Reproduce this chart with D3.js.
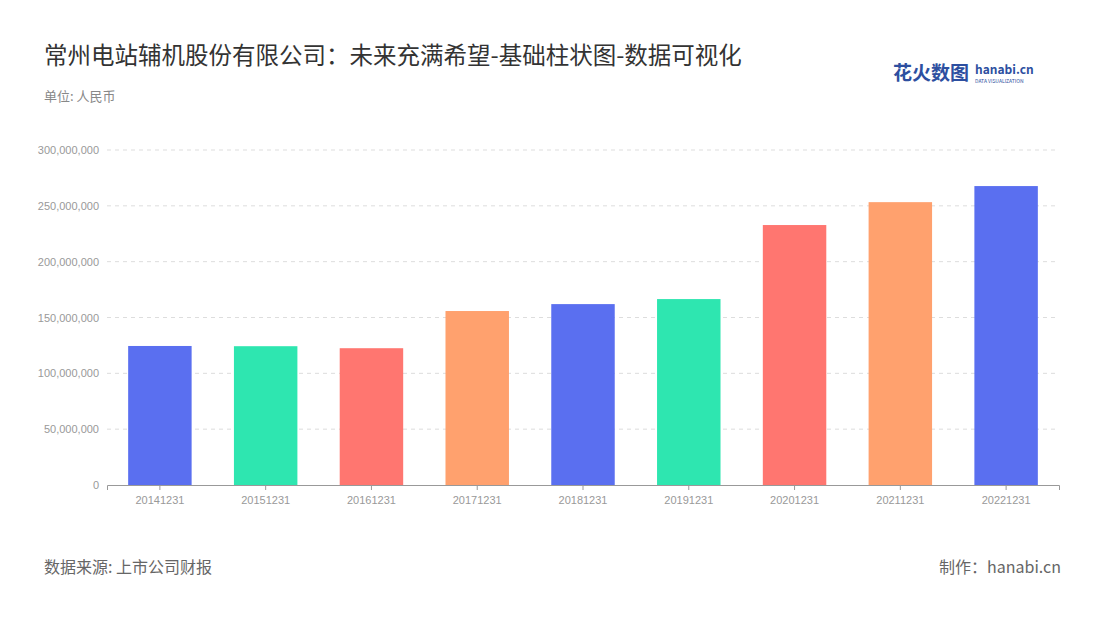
<!DOCTYPE html>
<html><head><meta charset="utf-8">
<script src="https://cdn.jsdelivr.net/npm/d3@7"></script>
<style>body{margin:0;background:#fff;font-family:"Noto Sans CJK SC","Noto Sans",sans-serif}</style>
</head><body><svg id="chart" width="1100" height="620"></svg>
<script>
const categories = ["20141231","20151231","20161231","20171231","20181231","20191231","20201231","20211231","20221231"];
const values = [124500000,124300000,122500000,155800000,162000000,166500000,232800000,253300000,267700000];
const colors = ["#5a6ff0","#2ee6b0","#ff7670","#ffa16e"];
const yTicks = [0,50000000,100000000,150000000,200000000,250000000,300000000];

const svg = d3.select("#chart");
const margin = {top: 150, right: 41, bottom: 135, left: 107};
const width = 1100 - margin.left - margin.right, height = 620 - margin.top - margin.bottom;

svg.append("text").attr("x", 44).attr("y", 64).attr("font-size", 23.5).attr("fill", "#333")
  .text("常州电站辅机股份有限公司：未来充满希望-基础柱状图-数据可视化");
svg.append("text").attr("x", 44).attr("y", 101).attr("font-size", 13).attr("fill", "#888").text("单位: 人民币");
svg.append("text").attr("x", 893).attr("y", 80).attr("font-size", 19).attr("font-weight", "bold").attr("fill", "#2d4fa0").text("花火数图");
svg.append("text").attr("x", 975).attr("y", 74).attr("font-size", 12).attr("font-weight", "bold").attr("fill", "#2d4fa0").text("hanabi.cn");
svg.append("text").attr("x", 975).attr("y", 83).attr("font-size", 5).attr("fill", "#2d4fa0").text("DATA VISUALIZATION");
svg.append("text").attr("x", 44).attr("y", 573).attr("font-size", 16).attr("fill", "#666").text("数据来源: 上市公司财报");
svg.append("text").attr("x", 1061).attr("y", 573).attr("font-size", 16).attr("fill", "#666").attr("text-anchor", "end").text("制作：hanabi.cn");

const g = svg.append("g").attr("transform", `translate(${margin.left},${margin.top})`);
const x = d3.scaleBand().domain(categories).range([0, width]).paddingInner(0.4).paddingOuter(0.2);
const y = d3.scaleLinear().domain([0, 300000000]).range([height, 0]);

g.selectAll("line.grid").data(yTicks.slice(1)).enter().append("line")
  .attr("x1", 0).attr("x2", width).attr("y1", d => y(d)).attr("y2", d => y(d))
  .attr("stroke", "#ddd").attr("stroke-dasharray", "4,4");

const yAxis = g.append("g").call(d3.axisLeft(y).tickValues(yTicks).tickFormat(d3.format(",")).tickSize(0).tickPadding(8));
yAxis.select(".domain").remove();
yAxis.selectAll("text").attr("fill", "#999").attr("font-size", 11);

g.selectAll("rect.bar").data(values).enter().append("rect")
  .attr("x", (d, i) => x(categories[i])).attr("width", x.bandwidth())
  .attr("y", d => y(d)).attr("height", d => height - y(d))
  .attr("fill", (d, i) => colors[i % colors.length]);

const xAxis = g.append("g").attr("transform", `translate(0,${height})`)
  .call(d3.axisBottom(x).tickSize(5).tickPadding(6));
xAxis.select(".domain").attr("stroke", "#999");
xAxis.selectAll("line").attr("stroke", "#999");
xAxis.selectAll("text").attr("fill", "#999").attr("font-size", 11);
</script></body></html>
